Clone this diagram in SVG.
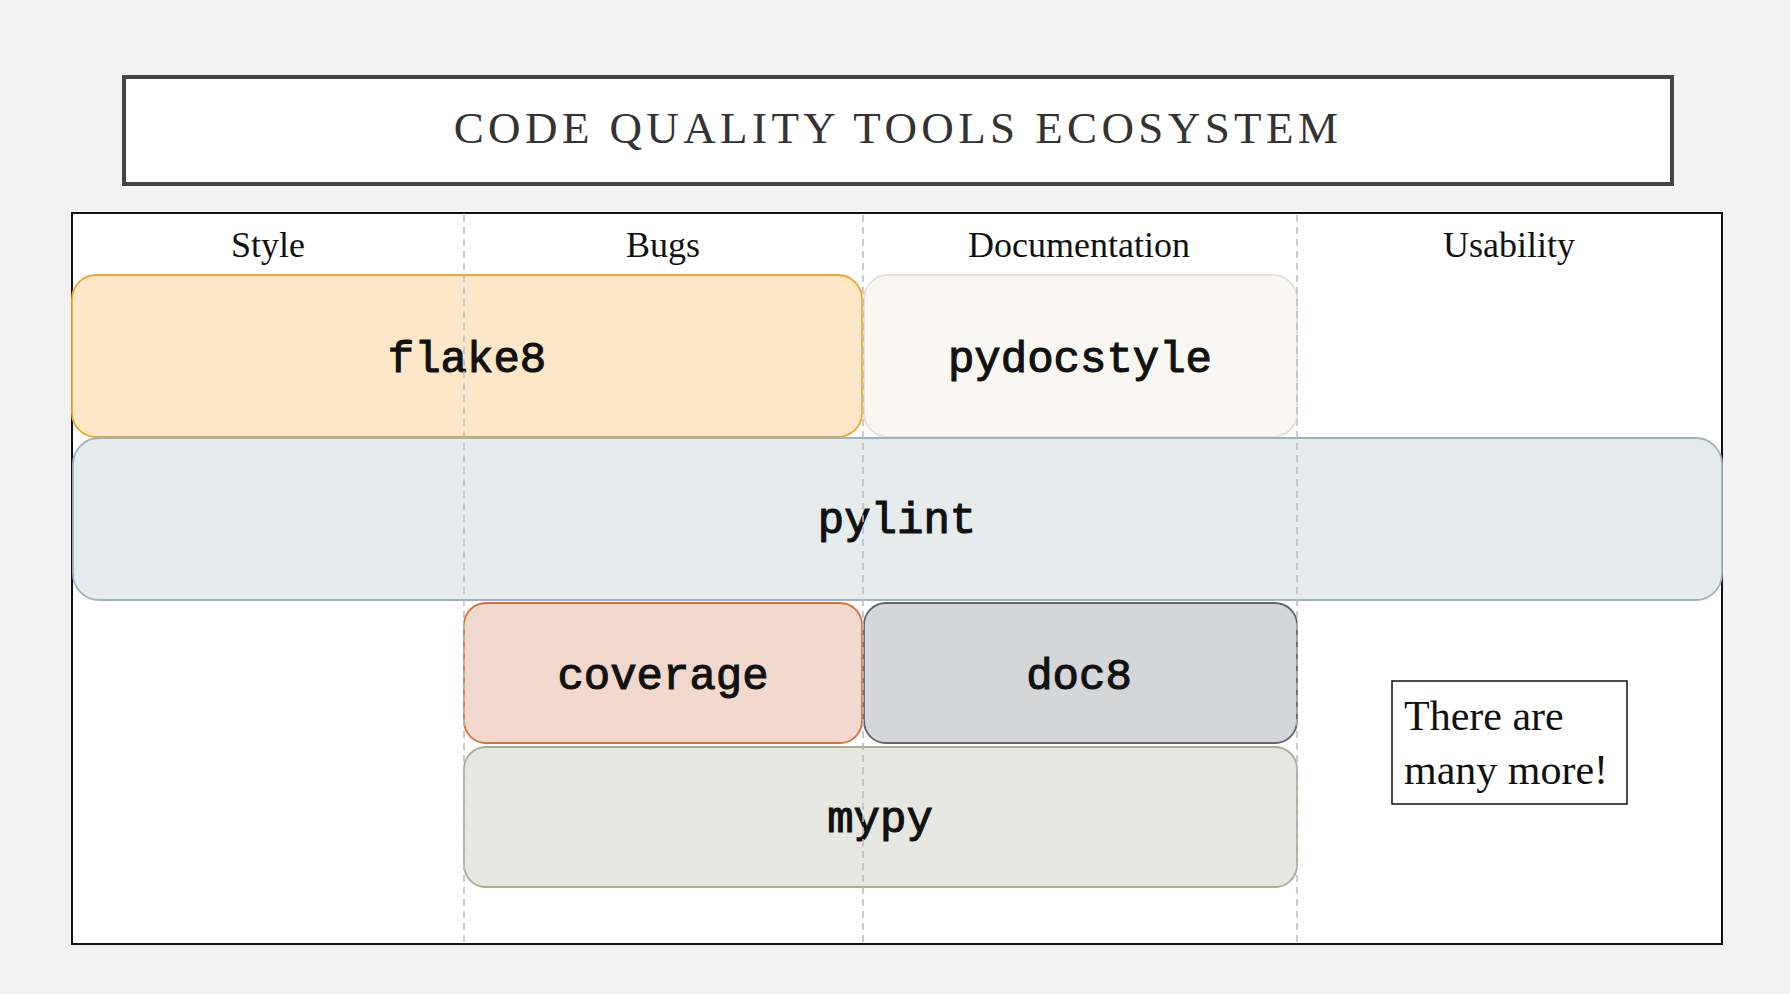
<svg xmlns="http://www.w3.org/2000/svg" width="1790" height="994" viewBox="0 0 1790 994">
<style>
.hdr{font-family:"Liberation Serif","Times New Roman",serif;font-size:36px;fill:#111;text-anchor:middle}
.tool{font-family:"Liberation Mono","Courier New",monospace;font-size:44px;font-weight:normal;fill:#111;stroke:#111;stroke-width:1.1;text-anchor:middle}
.div{stroke:#BBBBBB;stroke-width:1.5;stroke-dasharray:7 5;fill:none}
.note{font-family:"Liberation Serif","Times New Roman",serif;font-size:42px;fill:#111}
</style>
<rect x="0" y="0" width="1790" height="994" fill="#F2F2F2"/>
<g id="title">
<rect x="124" y="77" width="1548" height="107" fill="#FFFFFF" stroke="#444444" stroke-width="4"/>
<text x="898" y="143" font-family="'Liberation Serif','Times New Roman',serif" font-size="45" letter-spacing="4.4" fill="#333333" text-anchor="middle">CODE QUALITY TOOLS ECOSYSTEM</text>
</g>
<g id="frame">
<rect x="72" y="213" width="1650" height="731" fill="#FFFFFF" stroke="#111111" stroke-width="2"/>
</g>
<g id="headers">
<text class="hdr" x="268" y="257">Style</text>
<text class="hdr" x="663" y="257">Bugs</text>
<text class="hdr" x="1079" y="257">Documentation</text>
<text class="hdr" x="1509" y="257">Usability</text>
</g>
<g id="flake8">
<rect x="72" y="275" width="790" height="162" rx="24" ry="24" fill="#FCE8C8" stroke="#F2A630" stroke-width="1.8"/>
<text class="tool" x="467" y="372">flake8</text>
</g>
<g id="pydocstyle">
<rect x="864" y="275" width="433" height="162" rx="24" ry="24" fill="#F8F7F2" stroke="#E4E1D0" stroke-width="1.8"/>
<text class="tool" x="1080" y="372">pydocstyle</text>
</g>
<g id="pylint">
<rect x="73" y="438" width="1649" height="162" rx="26" ry="26" fill="#E6ECEC" stroke="#A2B2BA" stroke-width="1.8"/>
<text class="tool" x="897" y="533">pylint</text>
</g>
<g id="coverage">
<rect x="464" y="603" width="398" height="140" rx="22" ry="22" fill="#F2D9CE" stroke="#D9703A" stroke-width="1.8"/>
<text class="tool" x="663" y="689">coverage</text>
</g>
<g id="doc8">
<rect x="864" y="603" width="433" height="140" rx="22" ry="22" fill="#D5D6D8" stroke="#5E6468" stroke-width="1.8"/>
<text class="tool" x="1079" y="689">doc8</text>
</g>
<g id="mypy">
<rect x="464" y="747" width="833" height="140" rx="22" ry="22" fill="#E6E7E0" stroke="#A8AD94" stroke-width="1.8"/>
<text class="tool" x="880" y="832">mypy</text>
</g>
<g id="connectors">
<line class="div" x1="464" y1="215" x2="464" y2="943"/>
<line class="div" x1="863" y1="215" x2="863" y2="943"/>
<line class="div" x1="1297" y1="215" x2="1297" y2="943"/>
</g>
<g id="note">
<rect x="1392" y="681" width="235" height="123" fill="#FFFFFF" stroke="#111111" stroke-width="1.5"/>
<text class="note" x="1404" y="730">There are</text>
<text class="note" x="1404" y="784">many more!</text>
</g>
</svg>
